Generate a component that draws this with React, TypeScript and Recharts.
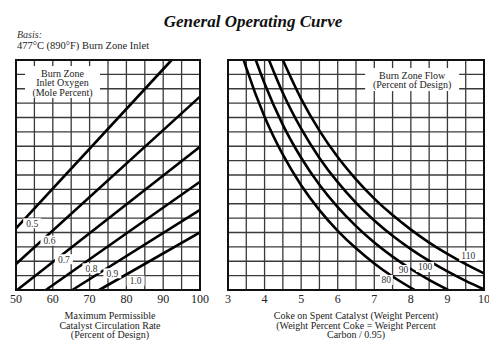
import React from 'react';
import { LineChart, Line, XAxis, YAxis, CartesianGrid, ReferenceArea, ReferenceDot } from 'recharts';

// left panel: burn zone inlet oxygen lines (start / end of each straight line)
const o2Levels = ['0.5', '0.6', '0.7', '0.8', '0.9', '1.0'];
const o2StartRate = [50, 50, 50.3, 58.1, 65.3, 72.6];
const o2StartLevel = [4.29, 1.81, 0, 0, 0, 0];
const o2EndRate = [92.3, 100, 100, 100, 100, 100];
const o2EndLevel = [16, 13.45, 9.97, 7.53, 5.57, 4.01];

// right panel: burn zone flow curves
const flowLevels = ['80', '90', '100', '110'];
const coke80 = [3.43, 3.5, 4, 4.5, 5, 5.5, 6, 6.5, 7, 7.5, 8.1];
const level80 = [16, 15.45, 12.05, 9.41, 7.29, 5.56, 4.12, 2.9, 1.85, 0.94, 0];
const coke90 = [3.76, 4, 4.5, 5, 5.5, 6, 6.5, 7, 7.5, 8, 8.5, 9.02];
const level90 = [16, 14.36, 11.49, 9.2, 7.32, 5.76, 4.44, 3.3, 2.32, 1.46, 0.7, 0];
const coke100 = [4.12, 4.5, 5, 5.5, 6, 6.5, 7, 7.5, 8, 8.5, 9, 9.5, 10];
const level100 = [16, 13.7, 11.22, 9.19, 7.5, 6.06, 4.84, 3.77, 2.84, 2.02, 1.29, 0.64, 0.05];
const coke110 = [4.5, 5, 5.5, 6, 6.5, 7, 7.5, 8, 8.5, 9, 9.5, 10];
const level110 = [16, 13.3, 11.09, 9.25, 7.7, 6.36, 5.21, 4.2, 3.3, 2.51, 1.8, 1.16];

const circGrid = [50, 55, 60, 65, 70, 75, 80, 85, 90, 95, 100];
const circTicks = [50, 60, 70, 80, 90, 100];
const cokeGrid = [3, 3.5, 4, 4.5, 5, 5.5, 6, 6.5, 7, 7.5, 8, 8.5, 9, 9.5, 10];
const cokeTicks = [3, 4, 5, 6, 7, 8, 9, 10];
const rowGrid = [0, 1, 2, 3, 4, 5, 6, 7, 8, 9, 10, 11, 12, 13, 14, 15, 16];

// annotation anchors (data coords)
const o2Tags = [[54.4, 4.64], [59.1, 3.43], [63.0, 2.14], [70.5, 1.51], [76.2, 1.16], [82.5, 0.65]];
const flowTags = [[7.33, 0.7], [7.8, 1.39], [8.39, 1.6], [9.57, 2.37]];

const flowCurves = [
  coke80.map((x, i) => ({ x, y: level80[i] })),
  coke90.map((x, i) => ({ x, y: level90[i] })),
  coke100.map((x, i) => ({ x, y: level100[i] })),
  coke110.map((x, i) => ({ x, y: level110[i] })),
];

const serif = '"Liberation Serif", "DejaVu Serif", serif';
const tickStyle = { fontFamily: serif, fontSize: 12, fill: '#222' };

function tag(text: string) {
  return (p: any) => {
    const w = text.length * 5 + 3;
    return (
      <g>
        <rect x={p.cx - w / 2} y={p.cy - 5} width={w} height={10} fill="#fff" />
        <text x={p.cx} y={p.cy + 3.3} textAnchor="middle" fontFamily={serif} fontSize={9.5} fill="#333">
          {text}
        </text>
      </g>
    );
  };
}

function box(lines: string[]) {
  return (p: any) => {
    const cx = p.x + p.width / 2;
    return (
      <g>
        <rect x={p.x} y={p.y} width={p.width} height={p.height} fill="#fff" />
        {lines.map((l, i) => (
          <text key={i} x={cx} y={p.y + 10.5 + i * 9.6} textAnchor="middle" fontFamily={serif} fontSize={10} fill="#222">
            {l}
          </text>
        ))}
      </g>
    );
  };
}

const abs = (left: number, top: number, extra: React.CSSProperties = {}): React.CSSProperties => ({
  position: 'absolute', left, top, fontFamily: serif, color: '#111', whiteSpace: 'nowrap', ...extra,
});

const hiddenY = (
  <YAxis
    type="number" domain={[0, 16]} ticks={rowGrid} width={0} interval={0}
    tick={{ fontSize: 0 }} tickFormatter={() => ''} axisLine={false} tickLine={false}
  />
);

export default function App() {
  return (
    <div style={{ position: 'absolute', left: 0, top: 0, width: 489, height: 341, background: '#fff', overflow: 'hidden' }}>
      <div style={abs(103, 13, { width: 300, textAlign: 'center', fontSize: 17, lineHeight: '17px', fontWeight: 'bold', fontStyle: 'italic' })}>
        General Operating Curve
      </div>
      <div style={abs(17, 30, { fontSize: 10, lineHeight: '10px', fontStyle: 'italic', color: '#333' })}>Basis:</div>
      <div style={abs(17, 41, { fontSize: 10.5, lineHeight: '10.5px', color: '#222' })}>477°C (890°F) Burn Zone Inlet</div>

      <div style={{ position: 'absolute', left: 0, top: 0 }}>
        <LineChart width={215} height={341} margin={{ top: 60, right: 15, bottom: 21, left: 16 }}>
          <CartesianGrid stroke="#3a3a3a" strokeWidth={1.3} horizontalValues={rowGrid} verticalValues={circGrid} />
          <XAxis
            dataKey="x" type="number" domain={[50, 100]} ticks={circGrid} height={30}
            axisLine={false} tickLine={false} tickSize={0} tickMargin={4.5} interval={0}
            tickFormatter={(v: number) => (circTicks.includes(v) ? String(v) : '')} tick={tickStyle}
          />
          {hiddenY}
          <ReferenceArea zIndex={900} x1={52.45} x2={72.83} y1={13.36} y2={15.58} shape={box(['Burn Zone', 'Inlet Oxygen', '(Mole Percent)'])} />
          <ReferenceArea zIndex={900} x1={50} x2={100} y1={0} y2={16} fill="none" stroke="#111" strokeWidth={2} />
          {o2Levels.map((lvl, i) => (
            <Line
              key={lvl} data={[{ x: o2StartRate[i], y: o2StartLevel[i] }, { x: o2EndRate[i], y: o2EndLevel[i] }]}
              dataKey="y" type="linear" stroke="#000" strokeWidth={2.6} dot={false} isAnimationActive={false}
            />
          ))}
          {o2Levels.map((lvl, i) => (
            <ReferenceDot zIndex={950} key={'t' + lvl} x={o2Tags[i][0]} y={o2Tags[i][1]} r={0} shape={tag(lvl)} />
          ))}
        </LineChart>
      </div>

      <div style={{ position: 'absolute', left: 215, top: 0 }}>
        <LineChart width={274} height={341} margin={{ top: 60, right: 5, bottom: 21, left: 13 }}>
          <CartesianGrid stroke="#3a3a3a" strokeWidth={1.3} horizontalValues={rowGrid} verticalValues={cokeGrid} />
          <XAxis
            dataKey="x" type="number" domain={[3, 10]} ticks={cokeGrid} height={30}
            axisLine={false} tickLine={false} tickSize={0} tickMargin={4.5} interval={0}
            tickFormatter={(v: number) => (cokeTicks.includes(v) ? String(v) : '')} tick={tickStyle}
          />
          {hiddenY}
          <ReferenceArea zIndex={900} x1={6.75} x2={9.32} y1={13.84} y2={15.44} shape={box(['Burn Zone Flow', '(Percent of Design)'])} />
          <ReferenceArea zIndex={900} x1={3} x2={10} y1={0} y2={16} fill="none" stroke="#111" strokeWidth={2} />
          {flowLevels.map((lvl, i) => (
            <Line
              key={lvl} data={flowCurves[i]} dataKey="y" type="monotone"
              stroke="#000" strokeWidth={2.6} dot={false} isAnimationActive={false}
            />
          ))}
          {flowLevels.map((lvl, i) => (
            <ReferenceDot zIndex={950} key={'t' + lvl} x={flowTags[i][0]} y={flowTags[i][1]} r={0} shape={tag(lvl)} />
          ))}
        </LineChart>
      </div>

      <div style={abs(10, 311, { width: 200, textAlign: 'center', fontSize: 10, lineHeight: '9.6px', color: '#222' })}>
        Maximum Permissible<br />Catalyst Circulation Rate<br />(Percent of Design)
      </div>
      <div style={abs(236, 311, { width: 240, textAlign: 'center', fontSize: 10, lineHeight: '9.6px', color: '#222' })}>
        Coke on Spent Catalyst (Weight Percent)<br />(Weight Percent Coke = Weight Percent<br />Carbon / 0.95)
      </div>
    </div>
  );
}
